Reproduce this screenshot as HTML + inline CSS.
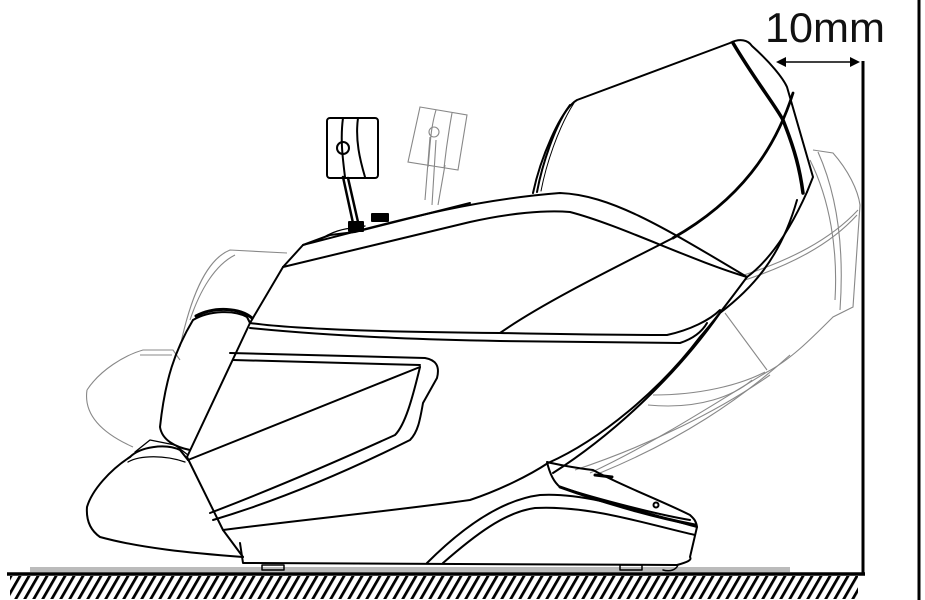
<!DOCTYPE html>
<html><head><meta charset="utf-8"><style>
html,body{margin:0;padding:0;background:#fff;width:925px;height:600px;overflow:hidden}
svg{display:block}
</style></head><body>
<svg width="925" height="600" viewBox="0 0 925 600" xmlns="http://www.w3.org/2000/svg">
<defs>
<pattern id="h" width="9" height="26" patternUnits="userSpaceOnUse" patternTransform="skewX(-30)">
<rect x="0" y="0" width="3.2" height="26" fill="#000"/>
</pattern>
</defs>
<rect width="925" height="600" fill="#fff"/>
<line x1="919" y1="0" x2="919" y2="600" stroke="#000" stroke-width="3"/>
<rect x="30" y="567" width="760" height="5" fill="#bbb"/>
<line x1="7" y1="574" x2="865" y2="574" stroke="#000" stroke-width="3.5"/>
<rect x="10" y="576" width="848" height="23" fill="url(#h)"/>
<line x1="863" y1="61" x2="863" y2="575" stroke="#000" stroke-width="3"/>
<text x="765" y="42" font-family="Liberation Sans, sans-serif" font-size="42" fill="#111" textLength="120" lengthAdjust="spacingAndGlyphs">10mm</text>
<line x1="778" y1="62" x2="858" y2="62" stroke="#000" stroke-width="1.5"/>
<path d="M776 62 L786 57 L786 67 Z M860 62 L850 57 L850 67 Z" fill="#000"/>

<g fill="none" stroke="#888" stroke-width="1.1">
<path d="M813 150 L833 153 C848 170 858 190 860 205 L853 307 L833 317 C810 340 790 360 767 372 C720 400 660 440 590 473"/>
<path d="M818 152 C835 190 845 240 840 310"/>
<path d="M810 160 C830 200 838 250 835 300"/>
<path d="M744 275 C790 260 830 240 858 210"/>
<path d="M745 280 C790 265 830 245 857 215"/>
<path d="M725 313 L767 370"/>
<path d="M653 395 C700 395 740 385 765 372"/>
<path d="M648 405 C700 410 735 395 752 380"/>
<path d="M600 473 C680 440 740 400 790 355"/>
<path d="M575 470 C650 445 720 410 770 375"/>
<path d="M180 347 C190 300 205 260 230 250 L287 253"/>
<path d="M190 320 C200 290 215 265 235 255"/>
<path d="M87 390 C100 370 125 355 143 350 L173 350 L180 360 M87 390 C84 410 95 430 133 447"/>
<path d="M140 355 L172 355"/>
<path d="M420 107 L467 115 L458 170 L408 162 Z"/>
<path d="M436 110 C430 130 430 150 428 167 M452 113 C448 135 446 150 444 168"/>
<circle cx="434" cy="132" r="5"/>
<path d="M430 137 L425 200 M436 140 L432 205 M445 165 L438 205"/>
</g>

<g fill="none" stroke="#000" stroke-width="2" stroke-linejoin="round" stroke-linecap="round">
<path d="M533 193 C540 160 560 110 577 100 L730 43 C740 38 748 40 752 46 C770 62 783 78 787 87 L813 177 L807 192"/>
<path d="M537 192 C542 165 555 125 570 105"/>
<path d="M541 191 C546 165 558 128 574 103" stroke-width="1"/>
<path d="M733 43 C755 80 775 105 783 120 C795 150 800 170 803 193" stroke-width="3.5"/>
<path d="M793 93 C775 150 740 200 673 238" stroke-width="2.8"/>
<path d="M673 238 C600 275 540 305 500 333"/>
<path d="M283 267 L303 245 C400 220 470 200 560 193 C610 195 660 225 747 277"/>
<path d="M283 267 L470 222 C510 213 545 210 570 212 C620 225 690 260 747 277"/>
<path d="M303 245 L330 235 L355 232 L470 203"/>
<path d="M250 323 C300 330 400 332 500 333 C600 335 650 335 667 335 C690 330 710 320 720 310"/>
<path d="M250 328 C350 338 450 340 500 341 L680 343 C695 338 703 330 707 323"/>
<path d="M807 192 C790 230 770 260 747 277 C730 300 715 320 700 337 C660 390 600 440 548 463"/>
<path d="M797 200 C780 260 750 290 720 313 C680 370 620 430 553 473"/>
<path d="M283 267 L250 323 L187 457 L223 530 L243 557"/>
<path d="M223 530 C300 520 400 510 470 500 C500 490 530 475 548 463"/>
<path d="M230 353 L425 358 C436 360 440 366 437 378 L423 403 C420 420 418 432 410 440 C350 470 280 500 213 520"/>
<path d="M233 360 L420 365"/>
<path d="M188 460 L420 367"/>
<path d="M420 367 C412 400 405 425 395 435 C340 460 270 490 210 513"/>
<path d="M193 320 C210 310 235 310 247 317 L250 323"/>
<path d="M193 320 C175 350 165 380 160 427 C162 440 175 447 190 450"/>
<path d="M196 316 C215 306 240 308 252 318" stroke-width="3"/>
<path d="M130 457 C140 447 165 443 180 450 L188 460"/>
<path d="M130 457 C110 470 92 490 87 507 C86 520 90 530 100 537 C140 548 190 553 243 557"/>
<path d="M128 462 C140 455 165 455 185 462" stroke-width="1.3"/>
<path d="M135 452 L150 440 L175 445 L188 455" stroke-width="1.3"/>
<path d="M240 543 L243 563 L677 565 C688 562 692 560 690 557 L697 527 C696 520 693 518 690 515 C660 500 620 485 593 470 C575 468 555 464 547 462 C550 475 555 483 560 487 C600 500 660 515 690 520"/>
<path d="M427 563 C460 530 500 500 540 495 C590 492 650 515 697 527"/>
<path d="M443 563 C475 535 505 512 535 508 C590 505 650 525 695 535"/>
<path d="M595 475 L612 477" stroke-width="3"/>
<circle cx="656" cy="505" r="2.5"/>
<path d="M560 487 C610 505 660 518 695 525" stroke-width="3"/>
<rect x="262" y="565" width="22" height="5" stroke-width="1.5"/>
<rect x="620" y="565" width="22" height="5" stroke-width="1.5"/>
<path d="M663 570 C670 572 676 570 678 565" stroke-width="1.5"/>
<rect x="327" y="118" width="51" height="60" rx="3"/>
<path d="M343 118 C340 140 343 160 345 177 M358 118 C355 140 360 160 365 177"/>
<circle cx="343" cy="148" r="6"/>
<path d="M343 177 L353 223 M348 178 L358 222" stroke-width="2.5"/>
<rect x="349" y="222" width="14" height="9" fill="#000"/>
<rect x="372" y="214" width="16" height="7" fill="#000"/>
<path d="M320 240 C330 232 345 228 355 228 L365 226" stroke-width="1.3"/>
</g>
</svg>
</body></html>
